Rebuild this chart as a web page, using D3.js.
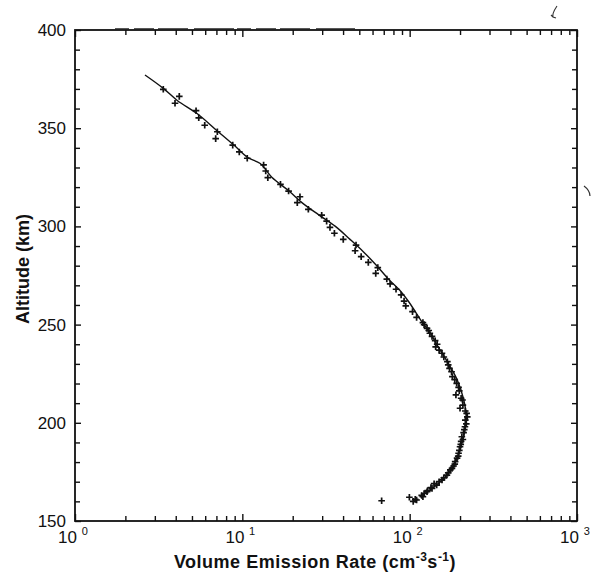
<!DOCTYPE html>
<html><head><meta charset="utf-8">
<script src="https://cdn.jsdelivr.net/npm/d3@7"></script>
<style>
body{margin:0;background:#fff;}
svg{display:block;font-family:"Liberation Sans",Arial,Helvetica,sans-serif;}
</style></head><body>
<svg id="c" width="591" height="575"></svg>
<script>
// ---- data ----
const obsRate = [3.37,4.20,3.96,5.29,5.49,5.96,7.09,6.93,8.76,9.59,10.7,13.4,13.8,14.2,16.9,18.9,21.3,22.1,24.8,29.8,31.9,33.4,35.5,40.1,47.8,47.2,51.3,56.6,64.5,62.7,73.0,76.4,82.9,88.9,92.6,94.8,104,110,120,127,132,142,143,156,168,173,180,191,198,189,207,200,219,215,214,205,200,196,187,179,167,156,145,136,127,120,110,105,99.6,68,
  108,118,122,128,134,140,150,160,170,175,183,186,192,195,198,202,203,208,210,212,218,221,215,208,203,196,186,178,170,160,150,146,136,130,122];
const obsAlt = [369.8,366.2,362.7,358.9,355.3,351.5,348.2,344.7,341.4,337.9,334.7,331.3,328.2,324.8,321.4,318,312.1,315.1,308.7,305.7,302.7,299.5,296.5,293.4,290.5,287.6,284.6,281.7,279,276.1,273.2,270.7,268,265.1,262,259.5,256.6,253.7,251,248.1,245.6,241.8,238.7,235.4,231.1,227.7,223.5,220.1,216.3,214.2,211.6,207.4,204.8,201.4,198,192.9,187.8,184.5,180.2,176.8,173.4,170.9,168.3,166.6,164.9,162.4,160.7,160,162.1,160.3,
  161,163,164,165.5,167,169,170,172,174.5,176,178,179,182,183,186,189,190.5,191.5,195,196.5,199.5,203,206,209,212.5,218,222,226,229.5,233.5,237,240,244,247,250];
const modelRate = [2.62,3.37,4.1,5.34,7.0,8.9,10.8,12.8,15.0,19.0,22.8,28.5,36,44,53,62,75,87,98,108,117,133,148,168,192,210,218,214,206,193,173,148,128,115];
const modelAlt  = [377.1,370.3,364,357.6,349,341.4,335,332,325,318,312,306,300,293.4,287,281,273,267.6,262,256.6,252,245.6,238.7,231,222,212,203,196,190,182,175,169,165,162.4];
const xDecades = [1,10,100,1000];
const xDecadeLabels = ["0","1","2","3"];
const xMinor = [2,3,4,5,6,7,8,9,20,30,40,50,60,70,80,90,200,300,400,500,600,700,800,900];
const yMajor = [150,200,250,300,350,400];
const yMinor = [160,170,180,190,210,220,230,240,260,270,280,290,310,320,330,340,360,370,380,390];
const xTitle = "Volume Emission Rate (cm";
const yTitle = "Altitude (km)";

// ---- drawing ----
const svg = d3.select("#c");
const L=75, R=577, T=30, B=521;
const x = d3.scaleLog().domain([1,1000]).range([L,R]);
const y = d3.scaleLinear().domain([150,400]).range([B,T]);

function styleAxis(g){ g.select(".domain").remove(); g.selectAll(".tick line").attr("stroke","#111").attr("stroke-width",1.4); }

// bottom
svg.append("g").attr("transform",`translate(0,${B})`).call(d3.axisBottom(x).tickValues(xMinor).tickSize(-5).tickFormat("")).call(styleAxis);
svg.append("g").attr("transform",`translate(0,${B})`).call(d3.axisBottom(x).tickValues(xDecades).tickSize(-7).tickFormat("")).call(styleAxis);
// top
svg.append("g").attr("transform",`translate(0,${T})`).call(d3.axisTop(x).tickValues(xMinor).tickSize(-5).tickFormat("")).call(styleAxis);
svg.append("g").attr("transform",`translate(0,${T})`).call(d3.axisTop(x).tickValues(xDecades).tickSize(-7).tickFormat("")).call(styleAxis);
// left
const yl = svg.append("g").attr("transform",`translate(${L},0)`).call(d3.axisLeft(y).tickValues(yMajor).tickSize(-6).tickPadding(9)).call(styleAxis);
yl.selectAll("text").attr("font-size",17).attr("fill","#111").attr("font-family","'Liberation Sans',Arial,sans-serif");
svg.append("g").attr("transform",`translate(${L},0)`).call(d3.axisLeft(y).tickValues(yMinor).tickSize(-5).tickFormat("")).call(styleAxis);
// right
svg.append("g").attr("transform",`translate(${R},0)`).call(d3.axisRight(y).tickValues(yMajor).tickSize(-6).tickFormat("")).call(styleAxis);
svg.append("g").attr("transform",`translate(${R},0)`).call(d3.axisRight(y).tickValues(yMinor).tickSize(-5).tickFormat("")).call(styleAxis);

// frame
svg.append("rect").attr("x",L).attr("y",T).attr("width",R-L).attr("height",B-T)
  .attr("fill","none").attr("stroke","#111").attr("stroke-width",1.8);
// scan artefacts: thicker stretch of the top border, handwritten marks
svg.append("line").attr("x1",115).attr("x2",355).attr("y1",T-1).attr("y2",T-1).attr("stroke","#222").attr("stroke-width",1.3).attr("stroke-dasharray","14,5,20,4,30,6,40,3");
svg.append("path").attr("d","M557,6 C555,9 552,13 553,17 L556,18 M553,17 L551,15").attr("fill","none").attr("stroke","#333").attr("stroke-width",1.1);
svg.append("path").attr("d","M584,186 C588,189 590,192 590,196").attr("fill","none").attr("stroke","#333").attr("stroke-width",1.2);

// x decade labels
const xl = svg.append("g");
xDecades.forEach((d,i)=>{
  const t = xl.append("text").attr("x",x(d)-2).attr("y",543).attr("text-anchor","middle")
    .attr("font-size",17).attr("fill","#111");
  t.append("tspan").text("10 ");
  t.append("tspan").attr("font-size",11).attr("dy",-8).text(xDecadeLabels[i]);
});

// titles
const xt = svg.append("text").attr("x",315).attr("y",568).attr("text-anchor","middle")
  .attr("font-size",18).attr("font-weight","bold").attr("letter-spacing",0.5).attr("fill","#111");
xt.append("tspan").text(xTitle);
xt.append("tspan").attr("font-size",12).attr("dy",-7).text("-3");
xt.append("tspan").attr("dy",7).text("s");
xt.append("tspan").attr("font-size",12).attr("dy",-7).text("-1");
xt.append("tspan").attr("dy",7).text(")");

svg.append("text").attr("transform","translate(29,269) rotate(-90)").attr("text-anchor","middle")
  .attr("font-size",18).attr("font-weight","bold").attr("fill","#111").text(yTitle);

// model line
const model = modelRate.map((v,i)=>({v,a:modelAlt[i]}));
svg.append("path").datum(model)
  .attr("d",d3.line().x(d=>x(d.v)).y(d=>y(d.a)).curve(d3.curveCatmullRom.alpha(0.5)))
  .attr("fill","none").attr("stroke","#111").attr("stroke-width",1.4);

// observations (+)
const obs = obsRate.map((v,i)=>({v,a:obsAlt[i]}));
svg.append("g").selectAll("path").data(obs).join("path")
  .attr("d",d=>{const cx=x(d.v),cy=y(d.a);return `M${cx-3.3},${cy}H${cx+3.3}M${cx},${cy-3.3}V${cy+3.3}`;})
  .attr("stroke","#111").attr("stroke-width",1.7);
</script>
</body></html>
